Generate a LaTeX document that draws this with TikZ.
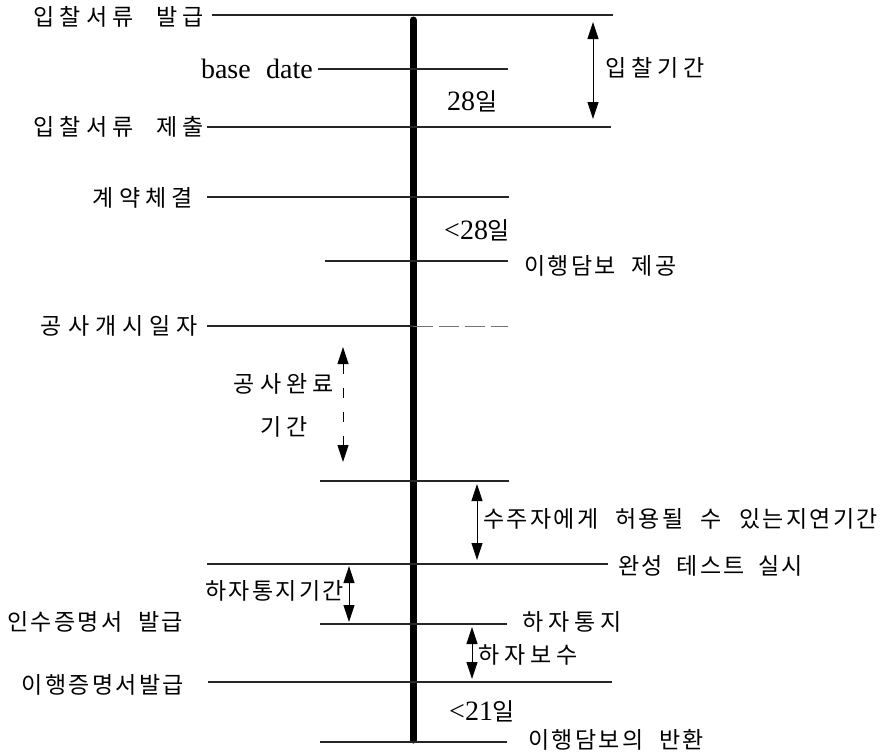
\documentclass[tikz,border=0pt]{standalone}
\usepackage{fontspec}
\setmainfont{Liberation Serif}
\newfontfamily\kr[LetterSpace=10]{Noto Sans CJK KR}
\newfontfamily\krwide[LetterSpace=22]{Noto Sans CJK KR}
\newfontfamily\krwider[LetterSpace=26]{Noto Sans CJK KR}
\usetikzlibrary{arrows.meta}
\tikzset{
  thin line/.style={line width=1.1pt, black!85},
  faint line/.style={line width=0.8pt, black!55},
  timeline/.style={line width=7pt, line cap=round},
  dim/.style={line width=0.9pt, {Triangle[length=17pt,width=11pt]}-{Triangle[length=17pt,width=11pt]}},
  lbl/.style={inner sep=0pt, font=\kr\fontsize{23pt}{26pt}\selectfont},
  lblwide/.style={inner sep=0pt, font=\krwide\fontsize{23pt}{26pt}\selectfont},
  lblwider/.style={inner sep=0pt, font=\krwider\fontsize{23pt}{26pt}\selectfont},
  lat/.style={inner sep=0pt, font=\fontsize{28pt}{30pt}\selectfont},
}
\newcommand{\il}{{\kr\fontsize{24pt}{26pt}\selectfont 일}}
\begin{document}
\begin{tikzpicture}[x=1pt,y=-1pt]
\useasboundingbox (0,0) rectangle (882,755);
% timeline
\coordinate (tT) at (413,20);
\coordinate (tB) at (413,740);
\draw[timeline] (tT) -- (tB);
% horizontal lines
\coordinate (l1a) at (212,15);  \coordinate (l1b) at (613,15);
\coordinate (l2a) at (318,69);  \coordinate (l2b) at (508,69);
\coordinate (l3a) at (207,127); \coordinate (l3b) at (611,127);
\coordinate (l4a) at (207,197); \coordinate (l4b) at (509,197);
\coordinate (l5a) at (325,261); \coordinate (l5b) at (508,261);
\coordinate (l6a) at (207,326); \coordinate (l6m) at (413,326); \coordinate (l6b) at (508,326);
\coordinate (l7a) at (320,481); \coordinate (l7b) at (509,481);
\coordinate (l8a) at (207,564); \coordinate (l8b) at (608,564);
\coordinate (l9a) at (320,624); \coordinate (l9b) at (507,624);
\coordinate (l10a) at (208,682); \coordinate (l10b) at (612,682);
\coordinate (l11a) at (320,742); \coordinate (l11b) at (507,742);
\draw[thin line] (l1a) -- (l1b);
\draw[thin line] (l2a) -- (l2b);
\draw[thin line] (l3a) -- (l3b);
\draw[thin line] (l4a) -- (l4b);
\draw[thin line] (l5a) -- (l5b);
\draw[thin line] (l6a) -- (l6m);
\draw[faint line, dash pattern=on 20pt off 6pt] (l6m) -- (l6b);
\draw[thin line] (l7a) -- (l7b);
\draw[thin line] (l8a) -- (l8b);
\draw[thin line] (l9a) -- (l9b);
\draw[thin line] (l10a) -- (l10b);
\draw[thin line] (l11a) -- (l11b);
% dimension arrows
\coordinate (a1t) at (593,22);  \coordinate (a1b) at (593,119);
\coordinate (a2t) at (343,347); \coordinate (a2b) at (343,462);
\coordinate (a3t) at (477,484); \coordinate (a3b) at (477,560);
\coordinate (a4t) at (349,566); \coordinate (a4b) at (349,622);
\coordinate (a5t) at (472,627); \coordinate (a5b) at (472,679);
\draw[dim] (a1t) -- (a1b);
\draw[dim, dash pattern=on 10pt off 14pt] (a2t) -- (a2b);
\draw[dim] (a3t) -- (a3b);
\draw[dim] (a4t) -- (a4b);
\draw[dim] (a5t) -- (a5b);
% labels
\node[lblwide, anchor=east] (n1) at (204,17) {입찰서류\hspace{1em}발급};
\node[lat, anchor=east] (n2) at (313,69) {base\hspace{0.3em} date};
\node[lblwide, anchor=east] (n3) at (204,127) {입찰서류\hspace{1em}제출};
\node[lblwide, anchor=east] (n4) at (193,198) {계약체결};
\node[lat, anchor=west] (n5) at (447,101) {28\il};
\node[lat, anchor=west] (n6) at (444,230) {<28\il};
\node[lbl, anchor=west] (n7) at (524,266) {이행담보\hspace{0.7em}제공};
\node[lblwider, anchor=east] (n8) at (198,326) {공사개시일자};
\node[lblwide, anchor=east] (n9) at (334,384) {공사완료};
\node[lblwide] (n10) at (284,427) {기간};
\node[lbl, anchor=west] (n11) at (483,519) {수주자에게\hspace{0.75em}허용될\hspace{0.75em}수\hspace{0.75em}있는지연기간};
\node[lbl, anchor=west] (n12) at (618,566) {완성\hspace{0.6em}테스트\hspace{0.6em}실시};
\node[lbl, anchor=east] (n13) at (344,591) {하자통지기간};
\node[lbl, anchor=west] (n14) at (7,622) {인수증명서\hspace{0.7em}발급};
\node[lblwide, anchor=west] (n15) at (522,622) {하자통지};
\node[lblwide, anchor=west] (n16) at (478,655) {하자보수};
\node[lbl, anchor=east] (n17) at (184,685) {이행증명서발급};
\node[lat, anchor=west] (n18) at (449,711) {<21\il};
\node[lbl, anchor=west] (n19) at (528,740) {이행담보의\hspace{0.7em}반환};
\node[lblwide, anchor=west] (n20) at (605,68) {입찰기간};
\end{tikzpicture}
\end{document}
